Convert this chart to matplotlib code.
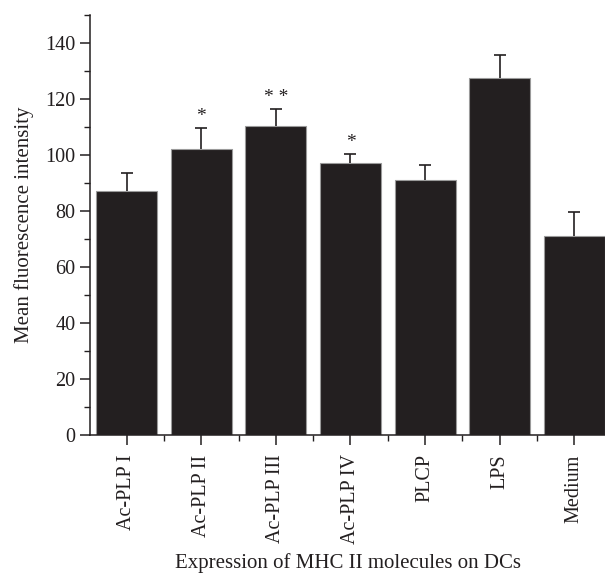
import numpy as np
import matplotlib.pyplot as plt
from matplotlib.ticker import MultipleLocator

plt.rcParams['font.family'] = ['Liberation Serif', 'DejaVu Serif']

groups = ['Ac-PLP I', 'Ac-PLP II', 'Ac-PLP III', 'Ac-PLP IV', 'PLCP', 'LPS', 'Medium']
mfi = [87.3, 102.2, 110.4, 97.3, 90.9, 127.6, 70.9]
sd = [6.2, 7.5, 6.0, 3.1, 5.7, 8.0, 8.7]
stars = ['', '*', '* *', '*', '', '', '']

ink = '#231f20'
fig = plt.figure(figsize=(6.05, 5.75), dpi=100)
ax = fig.add_axes([0.1488, 0.2435, 0.8512, 0.7304])

x = np.arange(len(groups))
ax.bar(x, mfi, width=0.82, color=ink, edgecolor='#9a9a9a', linewidth=0.8, zorder=2)
eb = ax.errorbar(x, mfi, yerr=[np.zeros(len(sd)), sd], fmt='none', ecolor=ink,
                 elinewidth=1.2, capsize=4, capthick=1.2, zorder=3)
# only the upper half of each error bar is shown
eb[1][0].set_visible(False)

for xi, m, s, st in zip(x, mfi, sd, stars):
    if st:
        ax.text(xi, m + s + 1.0, st, ha='center', va='bottom', fontsize=14, color=ink)

ax.set_xlim(-0.49, 6.41)
ax.set_ylim(0, 150)
ax.set_xticks(x)
ax.set_xticklabels(groups, rotation=90)
ax.xaxis.set_minor_locator(MultipleLocator(1, offset=0.5))
ax.yaxis.set_minor_locator(MultipleLocator(10))
ax.set_yticks(np.arange(0, 141, 20))
ax.tick_params(axis='both', which='major', direction='out', length=7, width=1.1,
               labelsize=14.5, color=ink, labelcolor=ink)
ax.tick_params(axis='both', which='minor', direction='out', length=4, width=1.0, color=ink)
ax.tick_params(axis='x', which='major', pad=7)

for side in ['top', 'right']:
    ax.spines[side].set_visible(False)
for side in ['left', 'bottom']:
    ax.spines[side].set_linewidth(1.1)
    ax.spines[side].set_color(ink)

ax.set_ylabel('Mean fluorescence intensity', fontsize=15, color=ink, labelpad=8)
ax.set_xlabel('Expression of MHC II molecules on DCs', fontsize=15, color=ink, va='center')
ax.xaxis.set_label_coords(0.5, -0.305)

fig.savefig('out.png', dpi=100)
